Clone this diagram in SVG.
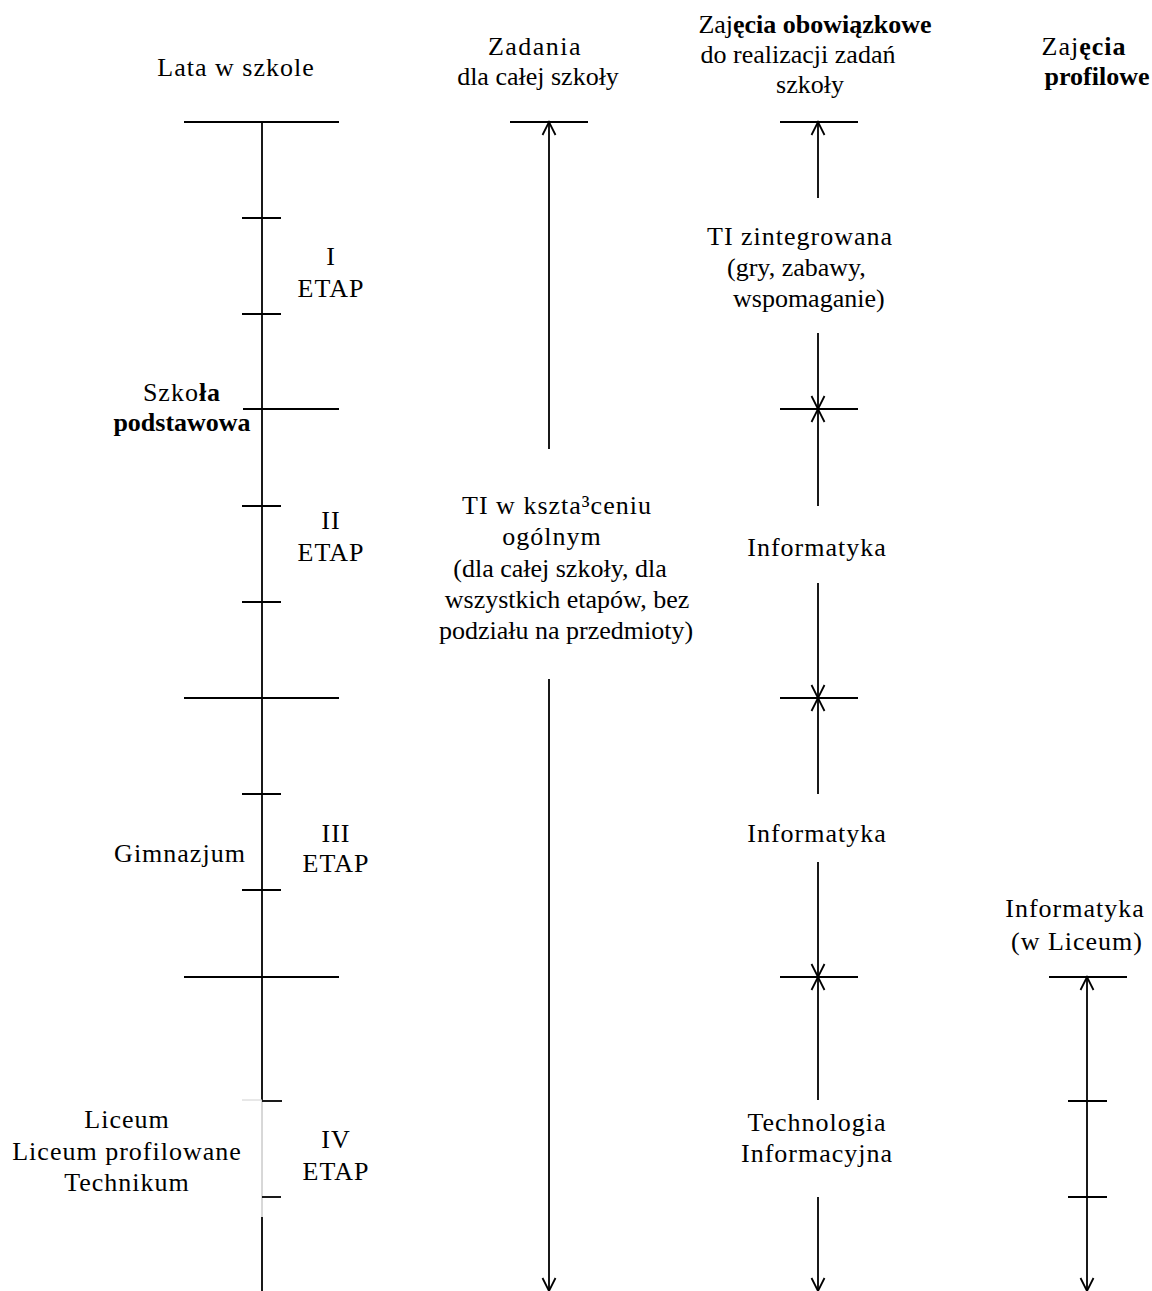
<svg xmlns="http://www.w3.org/2000/svg" width="1152" height="1291" viewBox="0 0 1152 1291">
<style>
text{font-family:"Liberation Serif","Times New Roman",serif;font-size:26px;fill:#000;text-anchor:middle}
.ls{letter-spacing:1px}
.st{text-anchor:start}
.b{font-weight:bold}
.ln{stroke:#000;stroke-width:1.8;fill:none}
.arr{stroke:#000;stroke-width:1.8;fill:none;marker-end:url(#v)}
.arr2{stroke:#000;stroke-width:1.8;fill:none;marker-start:url(#vs);marker-end:url(#v)}
</style>
<defs>
<marker id="v" markerUnits="userSpaceOnUse" markerWidth="30" markerHeight="30" viewBox="-15 -15 30 30" refX="0" refY="0" orient="auto" overflow="visible">
<path d="M-13,-6.5 L0,0 L-13,6.5" fill="none" stroke="#000" stroke-width="1.8"/>
</marker>
<marker id="vs" markerUnits="userSpaceOnUse" markerWidth="30" markerHeight="30" viewBox="-15 -15 30 30" refX="0" refY="0" orient="auto-start-reverse" overflow="visible">
<path d="M-13,-6.5 L0,0 L-13,6.5" fill="none" stroke="#000" stroke-width="1.8"/>
</marker>
</defs>
<rect width="1152" height="1291" fill="#fff"/>

<g id="connectors">
<!-- column 1 timeline -->
<line class="ln" x1="262" y1="122" x2="262" y2="1100"/>
<line x1="262" y1="1100" x2="262" y2="1217" stroke="#b0b0b0" stroke-width="1"/>
<line x1="242" y1="1100" x2="262" y2="1100" stroke="#d0d0d0" stroke-width="1"/>
<line class="ln" x1="262" y1="1217" x2="262" y2="1291"/>
<line class="ln" x1="184" y1="122" x2="339" y2="122"/>
<line class="ln" x1="242" y1="218" x2="281" y2="218"/>
<line class="ln" x1="242" y1="314" x2="281" y2="314"/>
<line class="ln" x1="243" y1="409" x2="339" y2="409"/>
<line class="ln" x1="242" y1="506" x2="281" y2="506"/>
<line class="ln" x1="242" y1="602" x2="281" y2="602"/>
<line class="ln" x1="184" y1="698" x2="339" y2="698"/>
<line class="ln" x1="242" y1="794" x2="281" y2="794"/>
<line class="ln" x1="242" y1="890" x2="281" y2="890"/>
<line class="ln" x1="184" y1="977" x2="339" y2="977"/>
<line class="ln" x1="262" y1="1101" x2="282" y2="1101"/>
<line class="ln" x1="262" y1="1197" x2="281" y2="1197"/>
<!-- column 2 -->
<line class="ln" x1="510" y1="122" x2="588" y2="122"/>
<line class="arr" x1="549" y1="449" x2="549" y2="122"/>
<line class="arr" x1="549" y1="679" x2="549" y2="1291"/>
<!-- column 3 -->
<line class="ln" x1="780" y1="122" x2="858" y2="122"/>
<line class="arr" x1="818" y1="198" x2="818" y2="122"/>
<line class="arr" x1="818" y1="333" x2="818" y2="409"/>
<line class="ln" x1="780" y1="409" x2="858" y2="409"/>
<line class="arr" x1="818" y1="506" x2="818" y2="409"/>
<line class="arr" x1="818" y1="583" x2="818" y2="698"/>
<line class="ln" x1="780" y1="698" x2="858" y2="698"/>
<line class="arr" x1="818" y1="794" x2="818" y2="698"/>
<line class="arr" x1="818" y1="862" x2="818" y2="977"/>
<line class="ln" x1="780" y1="977" x2="858" y2="977"/>
<line class="arr" x1="818" y1="1100" x2="818" y2="977"/>
<line class="arr" x1="818" y1="1197" x2="818" y2="1291"/>
<!-- column 4 -->
<line class="ln" x1="1049" y1="977" x2="1127" y2="977"/>
<line class="arr2" x1="1087" y1="977" x2="1087" y2="1291"/>
<line class="ln" x1="1068" y1="1101" x2="1107" y2="1101"/>
<line class="ln" x1="1068" y1="1197" x2="1107" y2="1197"/>
</g>

<g id="header-lata"><text class="ls" x="236" y="76">Lata w szkole</text></g>
<g id="header-zadania">
<text x="535" y="55" style="letter-spacing:1.5px">Zadania</text>
<text x="538" y="85">dla całej szkoły</text>
</g>
<g id="header-obowiazkowe">
<text x="815" y="33">Zaj<tspan class="b">ęcia obowiązkowe</tspan></text>
<text x="798" y="63">do realizacji zadań</text>
<text x="810" y="93">szkoły</text>
</g>
<g id="header-profilowe">
<text x="1084" y="55" class="ls">Zaj<tspan class="b">ęcia</tspan></text>
<text x="1097" y="85" class="b">profilowe</text>
</g>

<g id="etap1"><text class="ls" x="331" y="265">I</text><text class="ls" x="331" y="297">ETAP</text></g>
<g id="etap2"><text class="ls" x="331" y="529">II</text><text class="ls" x="331" y="561">ETAP</text></g>
<g id="etap3"><text class="ls" x="336" y="842">III</text><text class="ls" x="336" y="872">ETAP</text></g>
<g id="etap4"><text class="ls" x="336" y="1148">IV</text><text class="ls" x="336" y="1180">ETAP</text></g>

<g id="szkola-podstawowa">
<text x="182" y="401" class="ls">Szko<tspan class="b">ła</tspan></text>
<text x="182" y="431" class="b">podstawowa</text>
</g>
<g id="gimnazjum"><text class="ls" x="180" y="862">Gimnazjum</text></g>
<g id="liceum">
<text class="ls" x="127" y="1128">Liceum</text>
<text class="ls" x="127" y="1160">Liceum profilowane</text>
<text class="ls" x="127" y="1191">Technikum</text>
</g>

<g id="ti-ogolne">
<text class="ls" x="557" y="514">TI w kszta³ceniu</text>
<text class="ls" x="552" y="545">ogólnym</text>
<text x="560" y="577">(dla całej szkoły, dla</text>
<text x="567" y="608">wszystkich etapów, bez</text>
<text x="566" y="639">podziału na przedmioty)</text>
</g>

<g id="ti-zintegrowana">
<text class="st ls" x="707" y="245">TI  zintegrowana</text>
<text class="st" x="727" y="276">(gry, zabawy,</text>
<text class="st" x="733" y="307">wspomaganie)</text>
</g>
<g id="informatyka-2"><text class="ls" x="817" y="556">Informatyka</text></g>
<g id="informatyka-3"><text class="ls" x="817" y="842">Informatyka</text></g>
<g id="technologia">
<text class="ls" x="817" y="1131">Technologia</text>
<text class="ls" x="817" y="1162">Informacyjna</text>
</g>
<g id="informatyka-liceum">
<text class="ls" x="1075" y="917">Informatyka</text>
<text class="ls" x="1077" y="950">(w Liceum)</text>
</g>
</svg>
